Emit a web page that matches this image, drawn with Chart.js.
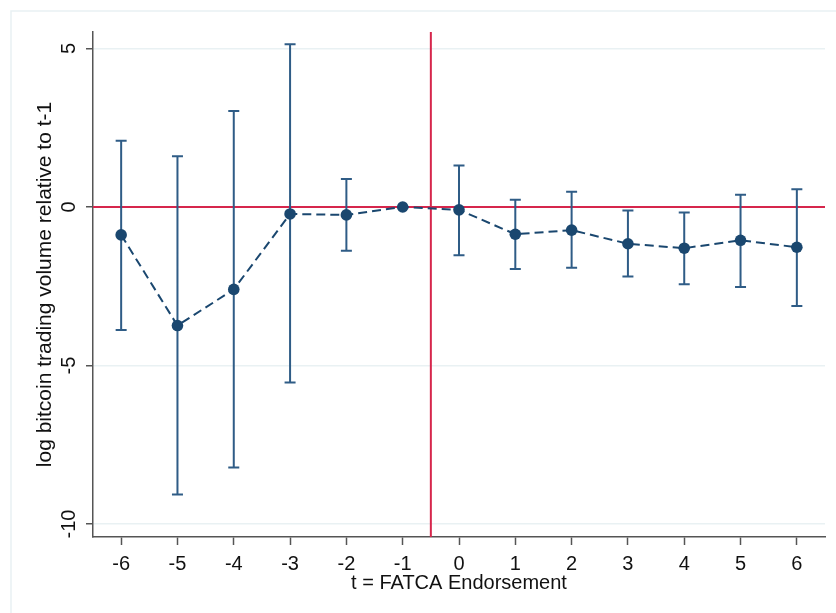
<!DOCTYPE html>
<html>
<head>
<meta charset="utf-8">
<script src="https://cdn.jsdelivr.net/npm/chart.js@4"></script>
<style>
  body { margin: 0; background: #fff; }
  canvas { display: block; }
</style>
</head>
<body>
<canvas id="myChart" width="836" height="613"></canvas>
<script>
// event time
const periods = [-6, -5, -4, -3, -2, -1, 0, 1, 2, 3, 4, 5, 6];
// point estimates
const estimates = [-0.88, -3.74, -2.60, -0.22, -0.25, 0, -0.09, -0.86, -0.73, -1.16, -1.30, -1.05, -1.27];
// confidence interval bounds (no interval for the reference period t-1)
const ciUpper = [2.09, 1.60, 3.03, 5.13, 0.88, null, 1.31, 0.23, 0.48, -0.11, -0.17, 0.39, 0.56];
const ciLower = [-3.88, -9.07, -8.22, -5.54, -1.38, null, -1.52, -1.96, -1.92, -2.19, -2.44, -2.52, -3.12];
// tick labels
const xTicks = [-6, -5, -4, -3, -2, -1, 0, 1, 2, 3, 4, 5, 6];
const yTicks = [5, 0, -5, -10];
const eventLine = -0.5;

const navy = "#1a476f";
const barColor = "#2f5c86";
const red = "#d6264c";
const gridColor = "#e9f1f3";
const axisColor = "#555555";
const textColor = "#111111";
const font = "'Liberation Sans', Arial, sans-serif";

const frame = {
    id: "frame",
    beforeDraw(chart) {
        const ctx = chart.ctx;
        ctx.save();
        ctx.fillStyle = "#fff";
        ctx.fillRect(0, 0, chart.width, chart.height);
        ctx.strokeStyle = gridColor;
        ctx.lineWidth = 1.5;
        ctx.beginPath();
        ctx.moveTo(11, chart.height);
        ctx.lineTo(11, 11);
        ctx.lineTo(chart.width, 11);
        ctx.stroke();
        ctx.restore();
    }
};

const refLines = {
    id: "refLines",
    beforeDatasetsDraw(chart) {
        const { ctx, chartArea, scales } = chart;
        const x = scales.x.getPixelForValue(eventLine);
        const y = scales.y.getPixelForValue(0);
        ctx.save();
        ctx.strokeStyle = red;
        ctx.lineWidth = 2;
        ctx.beginPath();
        ctx.moveTo(chartArea.left, y);
        ctx.lineTo(chartArea.right, y);
        ctx.moveTo(x, chartArea.top);
        ctx.lineTo(x, chartArea.bottom);
        ctx.stroke();

        // error bars
        ctx.strokeStyle = barColor;
        ctx.lineWidth = 2;
        ctx.beginPath();
        for (let i = 0; i < periods.length; i++) {
            if (ciUpper[i] === null) continue;
            const px = scales.x.getPixelForValue(periods[i]);
            const yt = scales.y.getPixelForValue(ciUpper[i]);
            const yb = scales.y.getPixelForValue(ciLower[i]);
            ctx.moveTo(px, yt);
            ctx.lineTo(px, yb);
            ctx.moveTo(px - 5.5, yt);
            ctx.lineTo(px + 5.5, yt);
            ctx.moveTo(px - 5.5, yb);
            ctx.lineTo(px + 5.5, yb);
        }
        ctx.stroke();
        ctx.restore();
    }
};

const yLabels = {
    id: "yLabels",
    afterDraw(chart) {
        const { ctx, scales } = chart;
        ctx.save();
        ctx.fillStyle = textColor;
        ctx.font = "20px " + font;
        ctx.textAlign = "center";
        ctx.textBaseline = "middle";
        yTicks.forEach(v => {
            const py = scales.y.getPixelForValue(v);
            ctx.save();
            ctx.translate(69, py);
            ctx.rotate(-Math.PI / 2);
            ctx.fillText(String(v), 0, 0);
            ctx.restore();
        });
        ctx.restore();
    }
};

new Chart(document.getElementById("myChart"), {
    type: "line",
    data: {
        datasets: [{
            data: periods.map((p, i) => ({ x: p, y: estimates[i] })),
            borderColor: navy,
            borderWidth: 2,
            borderDash: [9, 5],
            backgroundColor: navy,
            pointRadius: 5.8,
            pointBackgroundColor: navy,
            pointBorderWidth: 0,
            tension: 0
        }]
    },
    options: {
        responsive: false,
        devicePixelRatio: 1,
        animation: false,
        layout: { padding: { top: 32, right: 11, left: 0, bottom: 0 } },
        plugins: { legend: { display: false }, tooltip: { enabled: false } },
        scales: {
            x: {
                type: "linear",
                min: -6.5,
                max: 6.5,
                afterBuildTicks: s => { s.ticks = xTicks.map(v => ({ value: v })); },
                afterFit: s => { s.height = 76; },
                border: { color: axisColor, width: 1.5 },
                grid: { drawOnChartArea: false, tickLength: 8, tickColor: axisColor, tickWidth: 1.5 },
                ticks: { color: textColor, font: { family: font, size: 20 }, padding: 7, maxRotation: 0 },
                title: {
                    display: true,
                    text: "t = FATCA Endorsement",
                    color: textColor,
                    font: { family: font, size: 20 },
                    padding: { top: 0, bottom: 18 }
                }
            },
            y: {
                type: "linear",
                min: -10.41,
                max: 5.52,
                afterBuildTicks: s => { s.ticks = yTicks.map(v => ({ value: v })); },
                afterFit: s => { s.width = 93; },
                border: { color: axisColor, width: 1.5 },
                grid: { color: gridColor, lineWidth: 1.5, tickLength: 7, tickColor: axisColor, tickWidth: 1.5 },
                ticks: { display: false },
                title: {
                    display: true,
                    text: "log bitcoin trading volume relative to t-1",
                    color: textColor,
                    font: { family: font, size: 21 },
                    padding: { top: 33, bottom: 0 }
                }
            }
        }
    },
    plugins: [frame, refLines, yLabels]
});
</script>
</body>
</html>
